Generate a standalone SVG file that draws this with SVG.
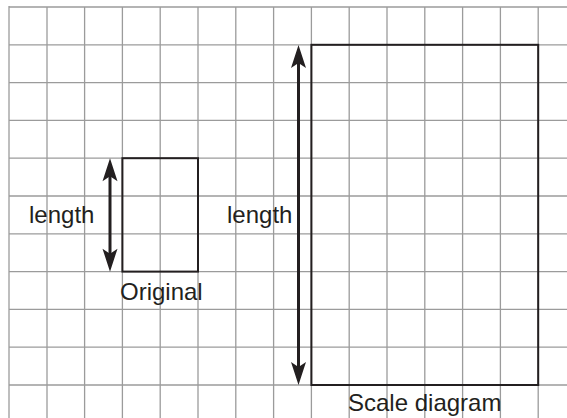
<svg xmlns="http://www.w3.org/2000/svg" width="567" height="418" viewBox="0 0 567 418">
<style>
.grid line{stroke:#9b9b9b;stroke-width:1.3}
.border{stroke:#8a8a8a;stroke-width:2}
.shape{fill:none;stroke:#231f20;stroke-width:2}
.arrow{stroke:#231f20;stroke-width:3;fill:none}
.head{fill:#231f20;stroke:none}
text{font-family:"Liberation Sans",Arial,sans-serif;font-size:24px;fill:#231f20}
</style>
<defs>
<path id="ah" d="M0,0 L-7.5,23 L0,18 L7.5,23 Z"/>
</defs>
<rect width="567" height="418" fill="#fff"/>
<g class="grid">
<line x1="47" y1="7" x2="47" y2="418"/>
<line x1="84.6" y1="7" x2="84.6" y2="418"/>
<line x1="122.4" y1="7" x2="122.4" y2="418"/>
<line x1="160.2" y1="7" x2="160.2" y2="418"/>
<line x1="198" y1="7" x2="198" y2="418"/>
<line x1="235.8" y1="7" x2="235.8" y2="418"/>
<line x1="273.6" y1="7" x2="273.6" y2="418"/>
<line x1="311.4" y1="7" x2="311.4" y2="418"/>
<line x1="349.2" y1="7" x2="349.2" y2="418"/>
<line x1="387" y1="7" x2="387" y2="418"/>
<line x1="424.8" y1="7" x2="424.8" y2="418"/>
<line x1="462.6" y1="7" x2="462.6" y2="418"/>
<line x1="500.4" y1="7" x2="500.4" y2="418"/>
<line x1="538.2" y1="7" x2="538.2" y2="418"/>
<line x1="9" y1="44.8" x2="567" y2="44.8"/>
<line x1="9" y1="82.6" x2="567" y2="82.6"/>
<line x1="9" y1="120.4" x2="567" y2="120.4"/>
<line x1="9" y1="158.2" x2="567" y2="158.2"/>
<line x1="9" y1="196" x2="567" y2="196"/>
<line x1="9" y1="233.8" x2="567" y2="233.8"/>
<line x1="9" y1="271.6" x2="567" y2="271.6"/>
<line x1="9" y1="309.4" x2="567" y2="309.4"/>
<line x1="9" y1="347.2" x2="567" y2="347.2"/>
<line x1="9" y1="385" x2="567" y2="385"/>
<line class="border" x1="9" y1="7" x2="567" y2="7"/>
<line class="border" x1="9" y1="6" x2="9" y2="418"/>
</g>
<g id="original">
<rect class="shape" x="122.4" y="158.2" width="75.6" height="113.4"/>
<text x="120" y="300">Original</text>
</g>
<g id="scale-diagram">
<rect class="shape" x="311.4" y="44.8" width="226.8" height="340.2"/>
<text x="348" y="411">Scale diagram</text>
</g>
<g id="label-length-original">
<text x="29" y="223">length</text>
</g>
<g id="label-length-scale">
<text x="227" y="223">length</text>
</g>
<g id="connectors">
<line class="arrow" x1="110" y1="175" x2="110" y2="255"/>
<use href="#ah" class="head" transform="translate(110,158.3)"/>
<use href="#ah" class="head" transform="translate(110,271.7) rotate(180)"/>
<line class="arrow" x1="298.5" y1="62" x2="298.5" y2="368"/>
<use href="#ah" class="head" transform="translate(298.5,45)"/>
<use href="#ah" class="head" transform="translate(298.5,385) rotate(180)"/>
</g>
</svg>
